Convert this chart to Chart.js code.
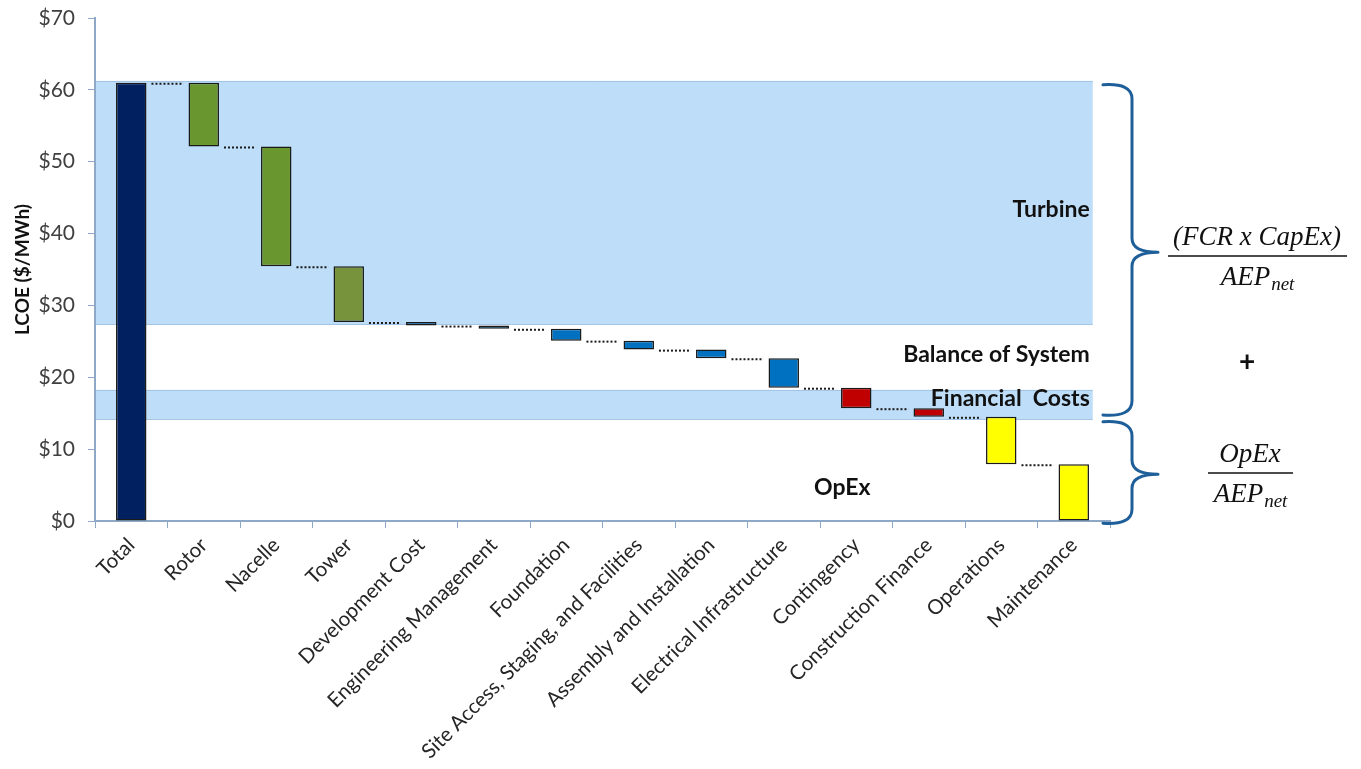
<!DOCTYPE html>
<html>
<head>
<meta charset="utf-8">
<script src="https://cdn.jsdelivr.net/npm/chart.js@4.4.1/dist/chart.umd.min.js"></script>
<style>
  html, body { margin: 0; padding: 0; background: #ffffff; }
  #chartContainer { display: block; }
</style>
</head>
<body>
<canvas id="chartContainer" width="1361" height="769"></canvas>
<script>
// categories and values ($/MWh)
var categories = ['Total', 'Rotor', 'Nacelle', 'Tower', 'Development Cost', 'Engineering Management',
    'Foundation', 'Site Access, Staging, and Facilities', 'Assembly and Installation',
    'Electrical Infrastructure', 'Contingency', 'Construction Finance', 'Operations', 'Maintenance'];
var totalLCOE = 61.0;
var componentCosts = [8.9, 16.65, 7.75, 0.5, 0.45, 1.65, 1.25, 1.2, 4.1, 2.85, 1.2, 6.6, 7.9];
var barColours = ['#002060', '#6A962F', '#6A962F', '#77933C', '#0070C0', '#0070C0', '#0070C0',
    '#0070C0', '#0070C0', '#0070C0', '#C00000', '#C00000', '#FFFF00', '#FFFF00'];
var yTicks = [0, 10, 20, 30, 40, 50, 60, 70];

// shaded bands [bottom, top] and their labels
var bandRanges = [[27.4, 61.25], [14.2, 18.25]];
var groupLabels = ['Turbine', 'Balance of System', 'Financial  Costs', 'OpEx'];
var groupLabelLevels = [43.4, 23.2, 17.0, 4.6];

// braces on the right [top, tip, bottom]
var braceLevels = [[60.7, 37.4, 14.75], [13.8, 6.5, -0.3]];

// waterfall: floating ranges from running total
function buildRanges(total, costs){
    var ranges = [[0, total]];
    var level = total;
    for(var i = 0; i < costs.length; i++){
        ranges.push([level - costs[i], level]);
        level = level - costs[i];
    }
    return ranges;
}
var floatRanges = buildRanges(totalLCOE, componentCosts);

var axisColour = '#8EA9C8';
var bandFill = '#BEDDF8';
var bandLine = '#A3C4E4';

var bandPlugin = {
    id: 'bands',
    beforeDatasetsDraw: function(chart){
        var ctx = chart.ctx, y = chart.scales.y, x = chart.scales.x, area = chart.chartArea;
        var right = x.getPixelForValue(categories.length - 1) + 19;
        ctx.save();
        for(var i = 0; i < bandRanges.length; i++){
            var top = y.getPixelForValue(bandRanges[i][1]);
            var bot = y.getPixelForValue(bandRanges[i][0]);
            ctx.fillStyle = bandFill;
            ctx.fillRect(area.left + 1, top, right - area.left - 1, bot - top);
            ctx.strokeStyle = bandLine;
            ctx.lineWidth = 1;
            ctx.beginPath();
            ctx.moveTo(area.left + 1, Math.round(top) + 0.5); ctx.lineTo(right, Math.round(top) + 0.5);
            ctx.moveTo(area.left + 1, Math.round(bot) + 0.5); ctx.lineTo(right, Math.round(bot) + 0.5);
            ctx.stroke();
        }
        ctx.restore();
    }
};

var connectorPlugin = {
    id: 'connectors',
    afterDatasetsDraw: function(chart){
        var ctx = chart.ctx, y = chart.scales.y;
        var bars = chart.getDatasetMeta(0).data;
        ctx.save();
        ctx.strokeStyle = '#1a1a1a';
        ctx.lineWidth = 2;
        ctx.setLineDash([2, 2]);
        for(var i = 0; i < bars.length - 1; i++){
            var level = y.getPixelForValue(floatRanges[i + 1][1]) + 1;
            var x1 = bars[i].x + bars[i].width / 2 + 5;
            var x2 = bars[i + 1].x - bars[i + 1].width / 2 - 5;
            ctx.beginPath();
            ctx.moveTo(x1, level);
            ctx.lineTo(x2, level);
            ctx.stroke();
        }
        ctx.restore();

        // group labels
        ctx.save();
        ctx.fillStyle = '#111111';
        ctx.font = 'bold 23px Lato';
        ctx.textBaseline = 'middle';
        var rightEdge = chart.scales.x.getPixelForValue(categories.length - 1) + 16;
        for(var j = 0; j < 3; j++){
            ctx.textAlign = 'right';
            ctx.fillText(groupLabels[j], rightEdge, y.getPixelForValue(groupLabelLevels[j]));
        }
        ctx.textAlign = 'center';
        ctx.fillText(groupLabels[3], chart.scales.x.getPixelForValue(10) - 14, y.getPixelForValue(groupLabelLevels[3]));
        ctx.restore();
    }
};

function drawBrace(ctx, x0, x1, x2, yT, yM, yB){
    var r = 14;
    ctx.beginPath();
    ctx.moveTo(x0, yT);
    ctx.quadraticCurveTo(x1, yT - 2, x1, yT + r);
    ctx.lineTo(x1, yM - r);
    ctx.quadraticCurveTo(x1, yM, x2, yM);
    ctx.moveTo(x2, yM);
    ctx.quadraticCurveTo(x1, yM, x1, yM + r);
    ctx.lineTo(x1, yB - r);
    ctx.quadraticCurveTo(x1, yB + 2, x0, yB);
    ctx.stroke();
}

function drawAEP(ctx, cx, cy){
    ctx.font = 'italic 27px "Liberation Serif"';
    var w1 = ctx.measureText('AEP').width;
    ctx.font = 'italic 19px "Liberation Serif"';
    var w2 = ctx.measureText('net').width;
    var start = cx - (w1 + w2) / 2;
    ctx.textAlign = 'left';
    ctx.font = 'italic 27px "Liberation Serif"';
    ctx.fillText('AEP', start, cy);
    ctx.font = 'italic 19px "Liberation Serif"';
    ctx.fillText('net', start + w1 + 1, cy + 7);
}

var formulaPlugin = {
    id: 'formulas',
    afterDraw: function(chart){
        var ctx = chart.ctx, y = chart.scales.y;
        ctx.save();
        ctx.strokeStyle = '#1F5F99';
        ctx.lineWidth = 3;
        ctx.lineCap = 'round';
        for(var i = 0; i < braceLevels.length; i++){
            drawBrace(ctx, 1103, 1132, 1158,
                y.getPixelForValue(braceLevels[i][0]),
                y.getPixelForValue(braceLevels[i][1]),
                y.getPixelForValue(braceLevels[i][2]));
        }
        ctx.restore();

        ctx.save();
        ctx.fillStyle = '#111111';
        ctx.strokeStyle = '#111111';
        ctx.lineWidth = 1.5;
        ctx.textBaseline = 'middle';
        // capex fraction
        ctx.textAlign = 'center';
        ctx.font = 'italic 27px "Liberation Serif"';
        ctx.fillText('(FCR x CapEx)', 1257, 238);
        ctx.beginPath(); ctx.moveTo(1168, 256); ctx.lineTo(1347, 256); ctx.stroke();
        drawAEP(ctx, 1257, 278);
        // plus
        ctx.textAlign = 'center';
        ctx.font = 'bold 28px Lato';
        ctx.fillText('+', 1247, 362);
        // opex fraction
        ctx.font = 'italic 27px "Liberation Serif"';
        ctx.fillText('OpEx', 1250, 455);
        ctx.beginPath(); ctx.moveTo(1208, 473); ctx.lineTo(1293, 473); ctx.stroke();
        drawAEP(ctx, 1250, 495);
        ctx.restore();
    }
};

var myChart = new Chart('chartContainer', {
    type: 'bar',
    data: {
        labels: categories,
        datasets: [{
            data: floatRanges,
            backgroundColor: barColours,
            borderColor: '#1a1a1a',
            borderWidth: 1.5,
            borderSkipped: false,
            barPercentage: 0.42,
            categoryPercentage: 1
        }]
    },
    options: {
        responsive: false,
        animation: false,
        layout: { padding: { top: 18, right: 251, left: 0, bottom: 0 } },
        plugins: {
            legend: { display: false },
            tooltip: { enabled: false }
        },
        scales: {
            x: {
                grid: { display: true, drawOnChartArea: false, tickLength: 7, color: axisColour, offset: true },
                border: { color: axisColour, width: 2 },
                ticks: {
                    autoSkip: false, minRotation: 45, maxRotation: 45, padding: 5,
                    color: '#262626', font: { family: 'Lato', size: 20.5 }
                },
                afterFit: function(scale){
                    scale.height = 248;
                    scale.paddingLeft = 0; scale.paddingRight = 0;
                }
            },
            y: {
                min: 0, max: 70,
                afterBuildTicks: function(scale){
                    scale.ticks = yTicks.map(function(v){ return { value: v }; });
                },
                grid: { display: true, drawOnChartArea: false, tickLength: 7, color: axisColour },
                border: { color: axisColour, width: 2 },
                ticks: {
                    padding: 13, color: '#404040', font: { family: 'Lato', size: 21 },
                    callback: function(v){ return '$' + v; }
                },
                title: {
                    display: true, text: 'LCOE ($/MWh)', color: '#111111',
                    font: { family: 'Lato', size: 19, weight: 'bold' },
                    padding: { top: 11, bottom: 0 }
                },
                afterFit: function(scale){
                    scale.width = 95;
                    scale.paddingTop = 0; scale.paddingBottom = 0;
                }
            }
        }
    },
    plugins: [bandPlugin, connectorPlugin, formulaPlugin]
});
</script>
</body>
</html>
